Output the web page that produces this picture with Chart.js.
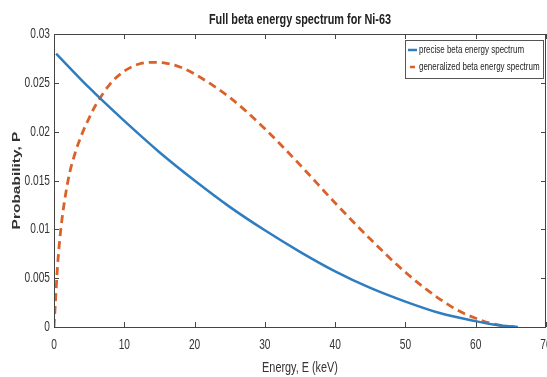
<!DOCTYPE html>
<html>
<head>
<meta charset="utf-8">
<title>Full beta energy spectrum for Ni-63</title>
<script src="https://cdn.jsdelivr.net/npm/chart.js@4.4.1/dist/chart.umd.min.js"></script>
<style>
body { margin: 0; background: #fff; }
#wrap { width: 547px; height: 377px; }
</style>
</head>
<body>
<div id="wrap"><canvas id="myChart" width="547" height="377"></canvas></div>
<script>
// values
var energyPrecise = [0.3, 5, 10, 15, 20, 25, 30, 35, 40, 45, 50, 55, 60, 63, 66];
var probPrecise = [0.0280, 0.0245, 0.0211, 0.0179, 0.0150, 0.0123, 0.0099, 0.0077, 0.0057, 0.0040, 0.0026, 0.0014, 0.0006, 0.0002, 0];

var energyGeneral = [0, 0.2, 0.5, 1, 2, 3, 4, 5, 6, 8, 10, 12, 14, 16, 18, 20, 25, 30, 35, 40, 45, 50, 55, 58, 60, 62, 64, 66];
var probGeneral = [0, 0.0025, 0.0062, 0.0102, 0.0150, 0.0178, 0.0198, 0.0214, 0.0228, 0.0249, 0.0262, 0.0269, 0.0271, 0.0270, 0.0266, 0.0259, 0.0235, 0.0203, 0.0166, 0.0127, 0.0090, 0.0056, 0.0028, 0.0015, 0.0009, 0.0004, 0.0001, 0];

var xTicks = [0, 10, 20, 30, 40, 50, 60, 70];
var xTickLabels = ['0', '10', '20', '30', '40', '50', '60', '70'];
var yTicks = [0, 0.005, 0.01, 0.015, 0.02, 0.025, 0.03];
var yTickLabels = ['0', '0.005', '0.01', '0.015', '0.02', '0.025', '0.03'];

var titleText = 'Full beta energy spectrum for Ni-63';
var xTitle = 'Energy, E (keV)';
var yTitle = 'Probability, P';
var seriesNames = ['precise beta energy spectrum', 'generalized beta energy spectrum'];

function toPoints(xs, ys) {
	var pts = [];
	for (var i = 0; i < xs.length; i++) {
		pts.push({x: xs[i], y: ys[i]});
	}
	return pts;
}

var blue = '#2f7dc1';
var orange = '#d9622b';
var axisColor = '#444';
var textColor = '#333';
var fam = '"Liberation Sans", Arial, sans-serif';
var squish = 0.7; // the reference text is narrow

// draw text squeezed sideways (rot = -90deg for the y title)
function narrowText(ctx, text, x, y, align, font, rot) {
	ctx.save();
	ctx.translate(x, y);
	if (rot) {
		ctx.rotate(rot);
		ctx.scale(1, squish);
	} else {
		ctx.scale(squish, 1);
	}
	ctx.font = font;
	ctx.textAlign = align;
	ctx.textBaseline = 'middle';
	ctx.fillText(text, 0, 0);
	ctx.restore();
}

// box, inward ticks, labels, title and legend (matlab look)
var matlabBox = {
	id: 'matlabBox',
	afterDatasetsDraw: function(chart) {
		var ctx = chart.ctx;
		var a = chart.chartArea;
		var xs = chart.scales.x;
		var ys = chart.scales.y;
		ctx.save();
		ctx.strokeStyle = axisColor;
		ctx.lineWidth = 1;
		ctx.strokeRect(a.left + 0.5, a.top + 0.5, a.right - a.left - 1, a.bottom - a.top);
		ctx.beginPath();
		for (var i = 0; i < xTicks.length; i++) {
			var px = Math.round(xs.getPixelForValue(xTicks[i])) + 0.5;
			ctx.moveTo(px, a.bottom);
			ctx.lineTo(px, a.bottom - 5);
			ctx.moveTo(px, a.top);
			ctx.lineTo(px, a.top + 5);
		}
		for (var j = 0; j < yTicks.length; j++) {
			var py = Math.round(ys.getPixelForValue(yTicks[j])) + 0.5;
			ctx.moveTo(a.left, py);
			ctx.lineTo(a.left + 5, py);
			ctx.moveTo(a.right, py);
			ctx.lineTo(a.right - 5, py);
		}
		ctx.stroke();

		// tick labels
		ctx.fillStyle = textColor;
		for (var i2 = 0; i2 < xTicks.length; i2++) {
			narrowText(ctx, xTickLabels[i2], xs.getPixelForValue(xTicks[i2]), a.bottom + 18, 'center', '14.5px ' + fam);
		}
		for (var j2 = 0; j2 < yTicks.length; j2++) {
			narrowText(ctx, yTickLabels[j2], a.left - 4, ys.getPixelForValue(yTicks[j2]), 'right', '14.5px ' + fam);
		}

		// axis titles
		narrowText(ctx, xTitle, (a.left + a.right) / 2, 368, 'center', '15.5px ' + fam);
		narrowText(ctx, yTitle, 17, (a.top + a.bottom) / 2, 'center', 'bold 15.5px ' + fam, -Math.PI / 2);

		// title
		ctx.fillStyle = '#222';
		narrowText(ctx, titleText, (a.left + a.right) / 2, 20, 'center', 'bold 15.5px ' + fam);

		// legend box
		var lx = 405, ly = 40, lw = 138, lh = 38;
		ctx.fillStyle = '#fff';
		ctx.fillRect(lx, ly, lw, lh);
		ctx.strokeStyle = '#555';
		ctx.strokeRect(lx + 0.5, ly + 0.5, lw, lh);
		var sets = chart.data.datasets;
		for (var k = 0; k < sets.length; k++) {
			var yy = ly + 10 + k * 17;
			ctx.strokeStyle = sets[k].borderColor;
			ctx.lineWidth = 2.5;
			ctx.beginPath();
			if (k == 1) {
				ctx.moveTo(lx + 5, yy);
				ctx.lineTo(lx + 10, yy);
			} else {
				ctx.moveTo(lx + 3, yy);
				ctx.lineTo(lx + 12, yy);
			}
			ctx.stroke();
			ctx.fillStyle = '#222';
			narrowText(ctx, sets[k].label, lx + 14, yy, 'left', '11.4px ' + fam);
		}
		ctx.restore();
	}
};

var ctx = document.getElementById('myChart');
var myChart = new Chart(ctx, {
	type: 'scatter',
	data: {
		datasets: [
			{
				label: seriesNames[0],
				data: toPoints(energyPrecise, probPrecise),
				showLine: true,
				borderColor: blue,
				backgroundColor: blue,
				borderWidth: 2.5,
				pointRadius: 0,
				cubicInterpolationMode: 'monotone'
			},
			{
				label: seriesNames[1],
				data: toPoints(energyGeneral, probGeneral),
				showLine: true,
				borderColor: orange,
				backgroundColor: orange,
				borderWidth: 2.8,
				borderDash: [8, 5],
				pointRadius: 0,
				cubicInterpolationMode: 'monotone'
			}
		]
	},
	options: {
		responsive: false,
		animation: false,
		devicePixelRatio: 1,
		layout: { padding: { top: 34, right: 1, left: 0, bottom: 0 } },
		plugins: {
			legend: { display: false },
			title: { display: false },
			tooltip: { enabled: false }
		},
		scales: {
			x: {
				type: 'linear',
				min: 0,
				max: 70,
				grid: { display: false },
				border: { display: false },
				ticks: { display: false },
				afterFit: function(scale) {
					scale.paddingRight = 0;
					scale.paddingLeft = 0;
					scale.height = 50;
				}
			},
			y: {
				min: 0,
				max: 0.03,
				grid: { display: false },
				border: { display: false },
				ticks: { display: false },
				afterFit: function(scale) {
					scale.width = 54;
				}
			}
		}
	},
	plugins: [matlabBox]
});
</script>
</body>
</html>
